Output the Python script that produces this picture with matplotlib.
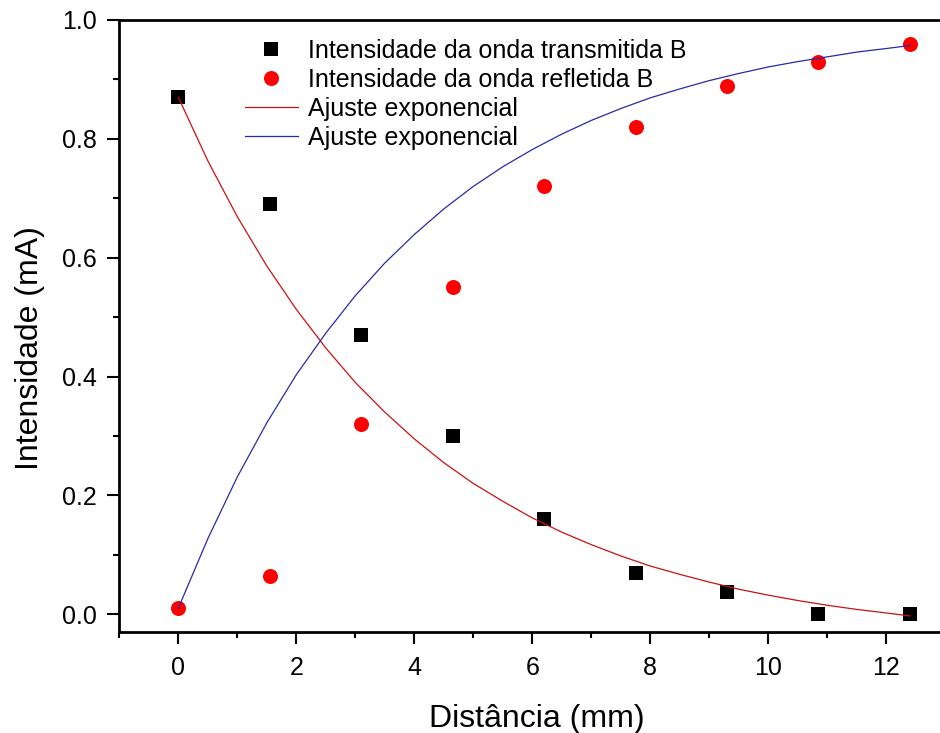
import matplotlib
matplotlib.use("Agg")
import matplotlib.pyplot as plt
from matplotlib.ticker import MultipleLocator

plt.rcParams['font.family'] = ['Liberation Sans', 'DejaVu Sans']

# Measured data
distancia = [0.0, 1.55, 3.10, 4.65, 6.20, 7.75, 9.30, 10.85, 12.40]
transmitida = [0.870, 0.690, 0.470, 0.300, 0.160, 0.069, 0.037, 0.000, 0.000]
refletida = [0.010, 0.064, 0.320, 0.550, 0.720, 0.820, 0.889, 0.930, 0.959]

# Fit curves
ajuste_x = [0.0, 0.5, 1.0, 1.5, 2.0, 2.5, 3.0, 3.5, 4.0, 4.5, 5.0, 5.5, 6.0,
            6.5, 7.0, 7.5, 8.0, 8.5, 9.0, 9.5, 10.0, 10.5, 11.0, 11.5, 12.0, 12.4]
ajuste_trans = [0.870, 0.763, 0.669, 0.586, 0.513, 0.448, 0.390, 0.340, 0.295,
                0.255, 0.220, 0.190, 0.162, 0.138, 0.117, 0.098, 0.081, 0.067,
                0.054, 0.042, 0.032, 0.023, 0.015, 0.008, 0.002, -0.003]
ajuste_refl = [0.010, 0.127, 0.231, 0.322, 0.403, 0.473, 0.536, 0.591, 0.639,
               0.682, 0.720, 0.753, 0.782, 0.808, 0.831, 0.851, 0.869, 0.884,
               0.898, 0.910, 0.921, 0.930, 0.938, 0.946, 0.952, 0.957]

labels = ["Intensidade da onda transmitida B",
          "Intensidade da onda refletida B",
          "Ajuste exponencial",
          "Ajuste exponencial"]

fig = plt.figure(figsize=(9.40, 7.33), dpi=100)
ax = fig.add_axes([119.3 / 940, 1 - 632 / 733, 1 - 119.3 / 940, (632 - 20) / 733])

h1, = ax.plot(distancia, transmitida, linestyle='none', marker='s', markersize=9.6,
              color='black', markeredgewidth=0, zorder=3)
h2, = ax.plot(distancia, refletida, linestyle='none', marker='o', markersize=10.8,
              color='#ff0000', markeredgewidth=0, zorder=3)
h3, = ax.plot(ajuste_x, ajuste_trans, color='#cc1111', linewidth=0.9, zorder=4)
h4, = ax.plot(ajuste_x, ajuste_refl, color='#2a2aa8', linewidth=0.9, zorder=4)

ax.set_xlim(-1, 12.91)
ax.set_ylim(-0.03, 1.0)
ax.xaxis.set_major_locator(MultipleLocator(2))
ax.xaxis.set_minor_locator(MultipleLocator(1))
ax.yaxis.set_major_locator(MultipleLocator(0.2))
ax.yaxis.set_minor_locator(MultipleLocator(0.1))
ax.yaxis.set_major_formatter(matplotlib.ticker.FormatStrFormatter('%.1f'))

ax.spines['right'].set_visible(False)
for s in ['left', 'bottom', 'top']:
    ax.spines[s].set_linewidth(2.0)

ax.tick_params(which='major', direction='out', length=8.6, width=1.5,
               labelsize=18, pad=7.5, top=False, right=False)
ax.tick_params(which='minor', direction='out', length=4.3, width=1.5,
               top=False, right=False)
ax.tick_params(axis='x', which='major', pad=9)

ax.set_xlabel("Distância (mm)", fontsize=23, va='baseline')
ax.set_ylabel("Intensidade (mA)", fontsize=23, va='baseline')
ax.xaxis.set_label_coords(0.5083, -0.1552)
ax.yaxis.set_label_coords(-0.0991, 0.464)

ax.legend([h1, h2, h3, h4], labels, loc='upper left',
          bbox_to_anchor=(245 / 940, 1 - 39 / 733), bbox_transform=fig.transFigure,
          frameon=False, fontsize=18, borderpad=0, borderaxespad=0,
          labelspacing=0.2, handlelength=2.1, handletextpad=0.4)

fig.savefig("out.png", dpi=100)
